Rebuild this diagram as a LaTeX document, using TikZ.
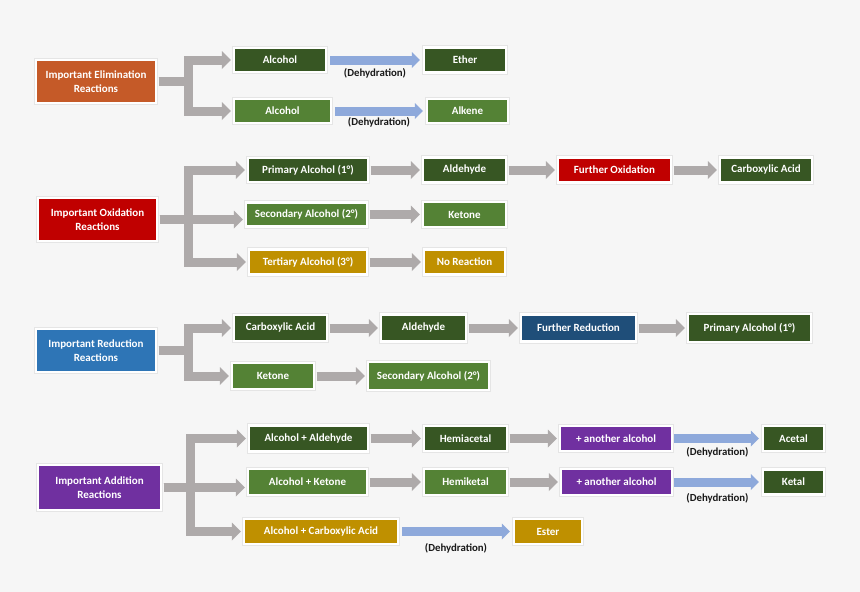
\documentclass[tikz,border=0pt]{standalone}
\usepackage{fontspec}
\setmainfont{Carlito}
\usetikzlibrary{arrows.meta}
\definecolor{bgc}{HTML}{F6F6F6}
\definecolor{corange}{HTML}{C55A28}
\definecolor{cred}{HTML}{C00000}
\definecolor{cblue}{HTML}{2E75B6}
\definecolor{cdblue}{HTML}{1F4E79}
\definecolor{cpurple}{HTML}{7030A0}
\definecolor{cdgreen}{HTML}{375623}
\definecolor{clgreen}{HTML}{548235}
\definecolor{cgold}{HTML}{BF9000}
\definecolor{cgrayarr}{HTML}{AEAAAA}
\definecolor{cbluearr}{HTML}{8EA9DB}
\begin{document}
\begin{tikzpicture}[x=1pt,y=-1pt,
  box/.style={draw=white, line width=2.2pt, text=white, inner sep=0pt, align=center,
    font=\bfseries\fontsize{11}{14}\selectfont,
    preaction={draw=black!10, line width=4.8pt}},
  garrow/.style={draw=cgrayarr, line width=9pt, line join=miter,
    -{Triangle[width=18pt,length=9pt,line width=0pt]}, shorten >=2pt, shorten <=1.5pt},
  barrow/.style={draw=cbluearr, line width=9pt,
    -{Triangle[width=16pt,length=8pt,line width=0pt]}, shorten >=3pt, shorten <=3pt},
  lbl/.style={font=\bfseries\fontsize{10.8}{12}\selectfont, text=black!90, inner sep=0pt}
]
\fill[bgc] (0,0) rectangle (860,592);
\useasboundingbox (0,0) rectangle (860,592);

% ---------- Elimination ----------
\node[box, fill=corange, minimum width=120, minimum height=43] (elim) at (96,81.5) {Important Elimination\\Reactions};
\node[box, fill=cdgreen, minimum width=92, minimum height=24] (alc1) at (280,60) {Alcohol};
\node[box, fill=cdgreen, minimum width=82, minimum height=25] (ether) at (465,60) {Ether};
\node[box, fill=clgreen, minimum width=97, minimum height=24] (alc2) at (282.5,111) {Alcohol};
\node[box, fill=clgreen, minimum width=81, minimum height=24] (alkene) at (467.5,111) {Alkene};

\draw[garrow] (elim.east) -- ++(31,0) |- (alc1.west);
\draw[garrow] (elim.east) -- ++(31,0) |- (alc2.west);
\draw[barrow] (alc1) -- (ether) node[lbl, midway, yshift=-13.5] {(Dehydration)};
\draw[barrow] (alc2) -- (alkene) node[lbl, midway, yshift=-11] {(Dehydration)};

% ---------- Oxidation ----------
\node[box, fill=cred, minimum width=119, minimum height=43] (ox) at (97.5,219.5) {Important Oxidation\\Reactions};
\node[box, fill=cdgreen, minimum width=120, minimum height=24] (prim) at (308,170) {Primary Alcohol (1°)};
\node[box, fill=clgreen, minimum width=121, minimum height=24] (sec) at (306.5,214.5) {Secondary Alcohol (2°)};
\node[box, fill=cgold, minimum width=118, minimum height=25] (tert) at (308,262) {Tertiary Alcohol (3°)};
\node[box, fill=cdgreen, minimum width=83, minimum height=25] (ald) at (464.5,170) {Aldehyde};
\node[box, fill=clgreen, minimum width=83, minimum height=25] (ketone) at (464.5,214.5) {Ketone};
\node[box, fill=cgold, minimum width=81, minimum height=25] (noreac) at (464.5,262) {No Reaction};
\node[box, fill=cred, minimum width=113, minimum height=25] (furox) at (614.5,170) {Further Oxidation};
\node[box, fill=cdgreen, minimum width=92, minimum height=25] (carbox) at (766,170) {Carboxylic Acid};

\draw[garrow] (ox.east) -- ++(30.5,0) |- (prim.west);
\draw[garrow] (ox.east) -- (sec.west |- ox.east);
\draw[garrow] (ox.east) -- ++(30.5,0) |- (tert.west);
\draw[garrow] (prim) -- (ald);
\draw[garrow] (ald) -- (furox);
\draw[garrow] (furox) -- (carbox);
\draw[garrow] (sec) -- (ketone);
\draw[garrow] (tert) -- (noreac);

% ---------- Reduction ----------
\node[box, fill=cblue, minimum width=120, minimum height=43] (red) at (96,350.5) {Important Reduction\\Reactions};
\node[box, fill=cdgreen, minimum width=93, minimum height=26] (carb) at (280.5,328) {Carboxylic Acid};
\node[box, fill=cdgreen, minimum width=85, minimum height=27] (ald2) at (423.5,328) {Aldehyde};
\node[box, fill=cdblue, minimum width=115, minimum height=27] (furred) at (578.5,328) {Further Reduction};
\node[box, fill=cdgreen, minimum width=123, minimum height=28] (prim2) at (749.5,328) {Primary Alcohol (1°)};
\node[box, fill=clgreen, minimum width=82, minimum height=26] (ket2) at (273,376) {Ketone};
\node[box, fill=clgreen, minimum width=121, minimum height=28] (sec2) at (428.5,376) {Secondary Alcohol (2°)};

\draw[garrow] (red.east) -- ++(31,0) |- (carb.west);
\draw[garrow] (red.east) -- ++(31,0) |- (ket2.west);
\draw[garrow] (carb) -- (ald2);
\draw[garrow] (ald2) -- (furred);
\draw[garrow] (furred) -- (prim2);
\draw[garrow] (ket2) -- (sec2);

% ---------- Addition ----------
\node[box, fill=cpurple, minimum width=123, minimum height=45] (add) at (99.5,487.5) {Important Addition\\Reactions};
\node[box, fill=cdgreen, minimum width=119, minimum height=26] (aald) at (308.5,438.5) {Alcohol + Aldehyde};
\node[box, fill=clgreen, minimum width=119, minimum height=26] (aket) at (307.5,482) {Alcohol + Ketone};
\node[box, fill=cgold, minimum width=154, minimum height=25] (acarb) at (321,531.5) {Alcohol + Carboxylic Acid};
\node[box, fill=cdgreen, minimum width=83, minimum height=25] (hemia) at (465.5,438.5) {Hemiacetal};
\node[box, fill=clgreen, minimum width=83, minimum height=26] (hemik) at (465.5,482) {Hemiketal};
\node[box, fill=cpurple, minimum width=112, minimum height=25] (anoth1) at (616,438.5) {+ another alcohol};
\node[box, fill=cpurple, minimum width=111, minimum height=26] (anoth2) at (616.5,482) {+ another alcohol};
\node[box, fill=cdgreen, minimum width=61, minimum height=25] (acetal) at (793.5,438.5) {Acetal};
\node[box, fill=cdgreen, minimum width=61, minimum height=25] (ketal) at (793.5,482) {Ketal};
\node[box, fill=cgold, minimum width=68, minimum height=25] (ester) at (548,531.5) {Ester};

\draw[garrow] (add.east) -- ++(28.5,0) |- (aald.west);
\draw[garrow] (add.east) -- (aket.west |- add.east);
\draw[garrow] (add.east) -- ++(28.5,0) |- (acarb.west);
\draw[garrow] (aald) -- (hemia);
\draw[garrow] (hemia) -- (anoth1);
\draw[garrow] (aket) -- (hemik);
\draw[garrow] (hemik) -- (anoth2);
\draw[barrow, shorten <=0.5pt] (anoth1) -- (acetal) node[lbl, midway, yshift=-13.5] {(Dehydration)};
\draw[barrow, shorten <=0.5pt] (anoth2) -- (ketal) node[lbl, midway, yshift=-16] {(Dehydration)};
\draw[barrow] (acarb) -- (ester) node[lbl, midway, yshift=-16.5] {(Dehydration)};
\end{tikzpicture}
\end{document}
